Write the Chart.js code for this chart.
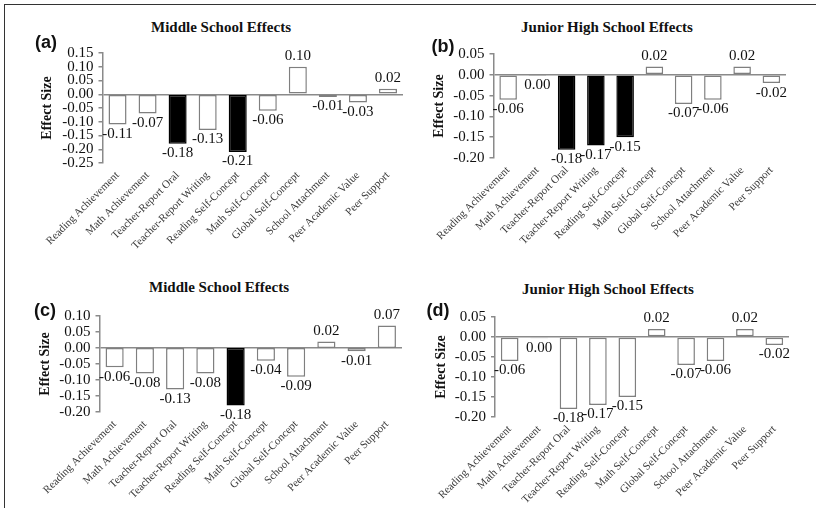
<!DOCTYPE html>
<html>
<head>
<meta charset="utf-8">
<script src="https://cdn.jsdelivr.net/npm/chart.js@4.4.1/dist/chart.umd.min.js"></script>
<style>
  html, body { margin: 0; padding: 0; background: #fff; }
  body { width: 816px; height: 508px; position: relative; overflow: hidden; }
  .frame { position: absolute; left: 4px; top: 4px; width: 830px; height: 520px; border-top: 1.5px solid #333; border-left: 1.5px solid #333; }
  .panel { position: absolute; display: block; }
  .title { position: absolute; font: bold 15px 'Liberation Serif', serif; transform: translate(-50%, -50%); white-space: nowrap; color: #111; }
  .tag { position: absolute; font: bold 18px 'Liberation Sans', Arial, sans-serif; transform: translate(-50%, -50%); color: #111; z-index: 2; }
</style>
</head>
<body>
<div class="frame"></div>

<canvas id="chartA" class="panel"></canvas>
<canvas id="chartB" class="panel"></canvas>
<canvas id="chartC" class="panel"></canvas>
<canvas id="chartD" class="panel"></canvas>

<div class="title" style="left:221px; top:27px;">Middle School Effects</div>
<div class="title" style="left:607px; top:27px;">Junior High School Effects</div>
<div class="title" style="left:219px; top:287px;">Middle School Effects</div>
<div class="title" style="left:608px; top:289px;">Junior High School Effects</div>

<div class="tag" style="left:46px; top:42px;">(a)</div>
<div class="tag" style="left:443px; top:46px;">(b)</div>
<div class="tag" style="left:45px; top:310px;">(c)</div>
<div class="tag" style="left:438px; top:310px;">(d)</div>

<script>
// Données
const categories = [
  'Reading Achievement', 'Math Achievement', 'Teacher-Report Oral', 'Teacher-Report Writing',
  'Reading Self-Concept', 'Math Self-Concept', 'Global Self-Concept', 'School Attachment',
  'Peer Academic Value', 'Peer Support'
];

const effectsA = [-0.11, -0.07, -0.18, -0.13, -0.21, -0.06, 0.10, -0.01, -0.03, 0.02];
const significantA = [false, false, true, false, true, false, false, false, false, false];

const effectsB = [-0.06, -0.003, -0.18, -0.17, -0.15, 0.02, -0.07, -0.06, 0.02, -0.02];
const significantB = [false, false, true, true, true, false, false, false, false, false];

const effectsC = [-0.06, -0.08, -0.13, -0.08, -0.18, -0.04, -0.09, 0.02, -0.01, 0.07];
const significantC = [false, false, false, false, true, false, false, false, false, false];

const effectsD = [-0.06, -0.003, -0.18, -0.17, -0.15, 0.02, -0.07, -0.06, 0.02, -0.02];
const significantD = [false, false, false, false, false, false, false, false, false, false];

const axisRangeA = [-0.25, 0.15];
const axisRangeB = [-0.20, 0.05];
const axisRangeC = [-0.20, 0.10];
const axisRangeD = [-0.20, 0.05];

const axisGray = '#8a8a8a';
const serif = "'Liberation Serif', 'Times New Roman', serif";

function fmt(v) {
  if (Math.abs(v) < 0.005) v = 0;
  return v.toFixed(2);
}

// Étiquettes de valeurs sous / au-dessus des barres
const valueLabels = {
  id: 'valueLabels',
  afterDatasetsDraw(chart) {
    const ctx = chart.ctx;
    const meta = chart.getDatasetMeta(0);
    const values = chart.data.datasets[0].data;
    ctx.save();
    ctx.font = '15px ' + serif;
    ctx.fillStyle = '#111';
    ctx.textAlign = 'center';
    meta.data.forEach((bar, i) => {
      const v = values[i];
      if (v < 0) {
        ctx.textBaseline = 'top';
        ctx.fillText(fmt(v), bar.x, bar.y + 2);
      } else {
        ctx.textBaseline = 'bottom';
        ctx.fillText(fmt(v), bar.x, bar.y - 3);
      }
    });
    ctx.restore();
  }
};

// box : zone du graphique (L, R, T, B) et centre du titre de l'axe y
function makePanel(id, values, significant, range, box) {
  const canvas = document.getElementById(id);
  const left = Math.round(box.yt - 12.4);
  const top = Math.round(box.T) - 10;
  const xAxisHeight = 90;
  const width = Math.round(box.R) + 6 - left;
  const height = Math.round(box.B - top) + xAxisHeight;
  canvas.width = width;
  canvas.height = height;
  canvas.style.left = left + 'px';
  canvas.style.top = top + 'px';
  canvas.style.width = width + 'px';
  canvas.style.height = height + 'px';

  return new Chart(canvas, {
    type: 'bar',
    data: {
      labels: categories,
      datasets: [{
        data: values,
        backgroundColor: significant.map(s => s ? '#000' : '#fff'),
        borderColor: significant.map(s => s ? '#000' : '#7f7f7f'),
        borderWidth: 1.5,
        borderSkipped: false,
        categoryPercentage: 1,
        barPercentage: 0.6
      }]
    },
    options: {
      responsive: false,
      animation: false,
      devicePixelRatio: 1,
      layout: {
        padding: { left: 0, top: box.T - top, right: 6, bottom: 0 }
      },
      plugins: {
        legend: { display: false },
        tooltip: { enabled: false }
      },
      scales: {
        x: {
          grid: { display: false, drawTicks: false },
          border: { display: false },
          ticks: {
            autoSkip: false,
            minRotation: 45,
            maxRotation: 45,
            padding: 6,
            color: '#3a3a3a',
            font: { size: 11, family: serif }
          },
          afterFit: scale => { scale.height = xAxisHeight; }
        },
        y: {
          min: range[0],
          max: range[1],
          border: { display: true, color: axisGray, width: 1.5 },
          grid: {
            color: c => (c.tick && Math.abs(c.tick.value) < 1e-9) ? axisGray : 'transparent',
            lineWidth: 1.5,
            tickColor: axisGray,
            tickLength: 4,
            drawTicks: true
          },
          ticks: {
            stepSize: 0.05,
            autoSkip: false,
            padding: 5,
            color: '#111',
            font: { size: 15, family: serif },
            callback: v => fmt(v)
          },
          title: {
            display: true,
            text: 'Effect Size',
            color: '#111',
            padding: { top: 4, bottom: 4 },
            font: { size: 14, weight: 'bold', family: serif, lineHeight: 1.2 }
          },
          afterFit: scale => { scale.width = box.L - left; }
        }
      }
    },
    plugins: [valueLabels]
  });
}

makePanel('chartA', effectsA, significantA, axisRangeA, { L: 102.5, R: 403, T: 49.3, B: 162.5, yt: 47 });
makePanel('chartB', effectsB, significantB, axisRangeB, { L: 493.5, R: 786, T: 50, B: 158, yt: 439 });
makePanel('chartC', effectsC, significantC, axisRangeC, { L: 99.5, R: 402, T: 311.5, B: 411.7, yt: 45 });
makePanel('chartD', effectsD, significantD, axisRangeD, { L: 495, R: 788.5, T: 312.7, B: 416.7, yt: 441 });
</script>
</body>
</html>
